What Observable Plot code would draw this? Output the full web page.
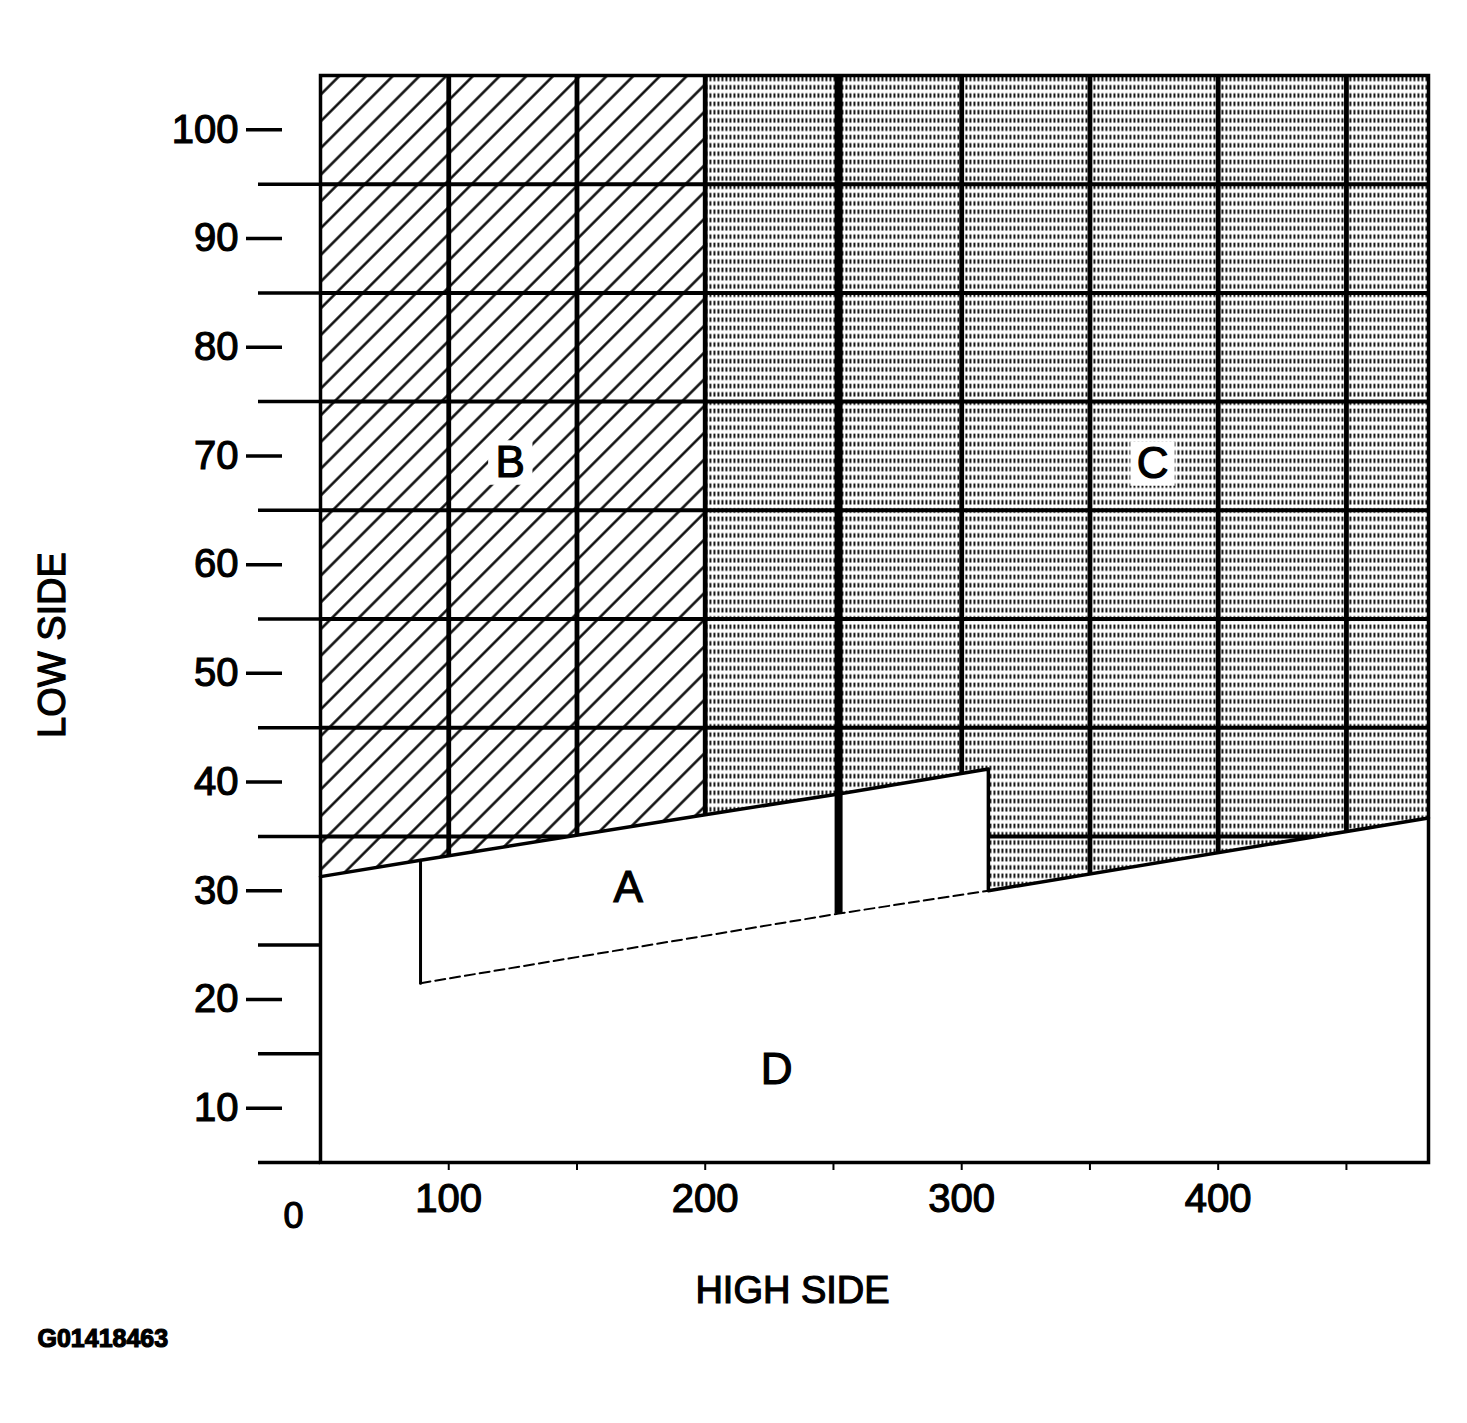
<!DOCTYPE html>
<html><head><meta charset="utf-8">
<script src="https://cdn.jsdelivr.net/npm/d3@7"></script>
<script src="https://cdn.jsdelivr.net/npm/@observablehq/plot@0.6"></script>
<style>
html,body{margin:0;padding:0;background:#fff;}
#chart svg{display:block;}
#chart svg text{stroke:#000;stroke-width:1.2px;}
</style></head><body><div id="chart"></div>
<script>
// ---- data ----
const xDomain = [50, 482];
const yDomain = [5, 105];
const yMajorTicks = [10, 20, 30, 40, 50, 60, 70, 80, 90, 100];
const yMinorTicks = [5, 15, 25, 35, 45, 55, 65, 75, 85, 95];
const xTicks = [100, 150, 200, 250, 300, 350, 400, 450];
const xTickLabels = {100: "100", 200: "200", 300: "300", 400: "400"};
const gridY = [35, 45, 55, 65, 75, 85, 95];
const gridX = [100, 150, 200, 300, 350, 400, 450];
const dividerX = 252;
// boundary between shaded zones (B, C) and the white zones (A, D)
const upperEdge = [[50, 31.3], [89, 32.8], [200, 37.0], [252, 38.9], [310.4, 41.2]];
// lower edge of zone A / upper edge of zone D
const lowerEdge = [[89, 21.5], [252, 27.9], [310.4, 30.0], [482, 36.7]];
const regionB = [[50, 105], [200, 105], [200, 37.0], [89, 32.8], [50, 31.3]];
const regionC = [[200, 105], [482, 105], [482, 36.7], [310.4, 30.0], [310.4, 41.2], [252, 38.9], [200, 37.0]];
const regionLabels = [
  {label: "A", x: 170, y: 30.3, box: false},
  {label: "B", x: 124, y: 69.4, box: true},
  {label: "C", x: 374.4, y: 69.3, box: true},
  {label: "D", x: 227.8, y: 13.5, box: false}
];
const xTitle = "HIGH SIDE";
const yTitle = "LOW SIDE";
const originLabel = "0";
const figureId = "G01418463";

// ---- derived geometry ----
const aRight = upperEdge[upperEdge.length - 1][0];
const whiteArea = [
  [xDomain[0], yDomain[0]], [xDomain[1], yDomain[0]],
  ...lowerEdge.filter(p => p[0] >= aRight).reverse(),
  ...upperEdge.slice().reverse()
];
const boundaryPath = [...upperEdge, ...lowerEdge.filter(p => p[0] >= aRight)];
const aLeftEdge = [upperEdge[1], lowerEdge[0]];
const aBottom = lowerEdge.filter(p => p[0] <= aRight);
function at(edge, x) {
  for (let i = 0; i < edge.length - 1; i++) {
    const [x0, y0] = edge[i], [x1, y1] = edge[i + 1];
    if (x >= x0 && x <= x1) return y0 + (y1 - y0) * (x - x0) / (x1 - x0);
  }
  return edge[edge.length - 1][1];
}
const divider = [{x: dividerX, y1: at(lowerEdge, dividerX), y2: yDomain[1]}];

const font = "Liberation Sans, Arial, Helvetica, sans-serif";
const px = d => d[0], py = d => d[1];

const chart = Plot.plot({
  width: 1467, height: 1423,
  marginLeft: 320, marginRight: 39, marginTop: 75, marginBottom: 261,
  style: {fontFamily: font, color: "#000", background: "#fff"},
  x: {domain: xDomain},
  y: {domain: yDomain},
  marks: [
    Plot.line(regionB, {x: px, y: py, curve: "linear-closed", fill: "url(#hatch)", stroke: "none"}),
    Plot.line(regionC, {x: px, y: py, curve: "linear-closed", fill: "url(#stipple)", stroke: "none"}),
    Plot.ruleY(gridY, {x1: xDomain[0], x2: xDomain[1], stroke: "#000", strokeWidth: 4}),
    Plot.ruleX(gridX, {y1: yDomain[0], y2: yDomain[1], stroke: "#000", strokeWidth: 4.8}),
    Plot.line(whiteArea, {x: px, y: py, curve: "linear-closed", fill: "#fff", stroke: "none"}),
    Plot.ruleX(divider, {x: "x", y1: "y1", y2: "y2", stroke: "#000", strokeWidth: 8}),
    Plot.line(boundaryPath, {x: px, y: py, stroke: "#000", strokeWidth: 3.5}),
    Plot.line(aLeftEdge, {x: px, y: py, stroke: "#000", strokeWidth: 3}),
    Plot.line(aBottom, {x: px, y: py, stroke: "#000", strokeWidth: 2, strokeDasharray: "10,5"}),
    Plot.frame({stroke: "#000", strokeWidth: 3.5}),
    Plot.dot(regionLabels.filter(d => d.box), {x: "x", y: "y", symbol: "square", r: 25, fill: "#fff", stroke: "none"}),
    Plot.text(regionLabels, {x: "x", y: "y", text: "label", fontSize: 44, fill: "#000"}),
    Plot.axisY(yMinorTicks, {anchor: "left", tickSize: 62, tickFormat: () => "", strokeWidth: 3.5, label: null}),
    Plot.axisY(yMajorTicks, {anchor: "left", tickSize: 36, dx: -38, tickPadding: 8, fontSize: 40, strokeWidth: 3.5, label: null}),
    Plot.axisX(xTicks, {anchor: "bottom", tickSize: 8, tickPadding: 13, fontSize: 40, strokeWidth: 2, tickFormat: d => xTickLabels[d] ?? "", label: null}),
    Plot.text([yTitle], {text: d => d, frameAnchor: "left", textAnchor: "middle", lineAnchor: "middle", rotate: -90, dx: -268, dy: 26, fontSize: 38}),
    Plot.text([xTitle], {text: d => d, frameAnchor: "bottom", textAnchor: "middle", lineAnchor: "middle", dx: -82, dy: 128, fontSize: 38}),
    Plot.text([originLabel], {text: d => d, frameAnchor: "bottom-left", textAnchor: "middle", lineAnchor: "middle", dx: -27, dy: 54, fontSize: 36}),
    Plot.text([figureId], {text: d => d, frameAnchor: "bottom-left", textAnchor: "start", lineAnchor: "middle", dx: -283, dy: 176, fontSize: 25, fontWeight: "bold"})
  ]
});

const defs = d3.select(chart).insert("defs", ":first-child");
const hs = 18.9;
const hatch = defs.append("pattern").attr("id", "hatch").attr("patternUnits", "userSpaceOnUse")
  .attr("width", hs).attr("height", hs).attr("patternTransform", "rotate(45)");
hatch.append("rect").attr("width", hs).attr("height", hs).attr("fill", "#fff");
hatch.append("line").attr("x1", hs / 2).attr("x2", hs / 2).attr("y1", -1).attr("y2", hs + 1)
  .attr("stroke", "#000").attr("stroke-width", 2.4);
const stip = defs.append("pattern").attr("id", "stipple").attr("patternUnits", "userSpaceOnUse")
  .attr("width", 4).attr("height", 8.3);
stip.append("rect").attr("width", 4).attr("height", 8.3).attr("fill", "#fff");
stip.append("rect").attr("x", 1).attr("y", 1.5).attr("width", 1.8).attr("height", 4.5).attr("fill", "#000");

document.getElementById("chart").appendChild(chart);
</script></body></html>
